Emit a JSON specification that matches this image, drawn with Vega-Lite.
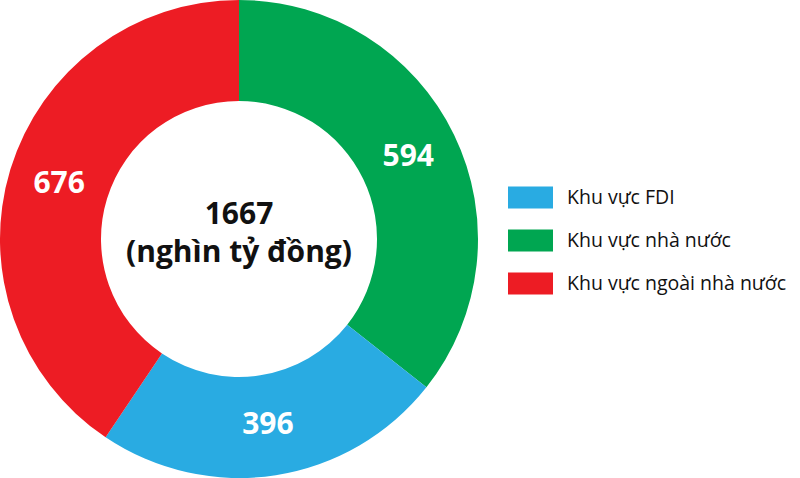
{
  "$schema": "https://vega.github.io/schema/vega-lite/v6.json",
  "width": 478,
  "height": 478,
  "padding": 0,
  "background": "white",
  "view": {"stroke": null},
  "datasets": {
    "sectors": [
      {"sector": "Khu vực nhà nước", "value": 594, "order": 1},
      {"sector": "Khu vực FDI", "value": 396, "order": 2},
      {"sector": "Khu vực ngoài nhà nước", "value": 676, "order": 3}
    ],
    "total": [
      {"label": "1667\n(nghìn tỷ đồng)"}
    ]
  },
  "layer": [
    {
      "data": {"name": "sectors"},
      "mark": {"type": "arc", "outerRadius": 239, "innerRadius": 138},
      "encoding": {
        "theta": {"field": "value", "type": "quantitative", "stack": true},
        "order": {"field": "order", "type": "quantitative"},
        "color": {
          "field": "sector",
          "type": "nominal",
          "scale": {
            "domain": ["Khu vực FDI", "Khu vực nhà nước", "Khu vực ngoài nhà nước"],
            "range": ["#29abe2", "#00a651", "#ed1c24"]
          },
          "legend": {
            "title": null,
            "orient": "none",
            "legendX": 508,
            "legendY": 175,
            "symbolType": "M-1,-0.49H1V0.49H-1Z",
            "symbolSize": 2025,
            "symbolStrokeWidth": 0,
            "symbolOpacity": 1,
            "labelFont": "Open Sans",
            "labelFontSize": 19.5,
            "labelColor": "#111111",
            "labelOffset": 14,
            "labelLimit": 400,
            "rowPadding": 9
          }
        }
      }
    },
    {
      "data": {"name": "sectors"},
      "mark": {
        "type": "text",
        "radius": 188,
        "font": "Open Sans",
        "fontWeight": "bold",
        "fontSize": 30,
        "color": "white"
      },
      "encoding": {
        "theta": {"field": "value", "type": "quantitative", "stack": true},
        "order": {"field": "order", "type": "quantitative"},
        "text": {"field": "value", "type": "quantitative"}
      }
    },
    {
      "data": {"name": "total"},
      "mark": {
        "type": "text",
        "font": "Open Sans",
        "fontWeight": "bold",
        "fontSize": 30,
        "color": "#111111",
        "lineBreak": "\n",
        "lineHeight": 38,
        "dy": -24
      },
      "encoding": {
        "text": {"field": "label"}
      }
    }
  ]
}
